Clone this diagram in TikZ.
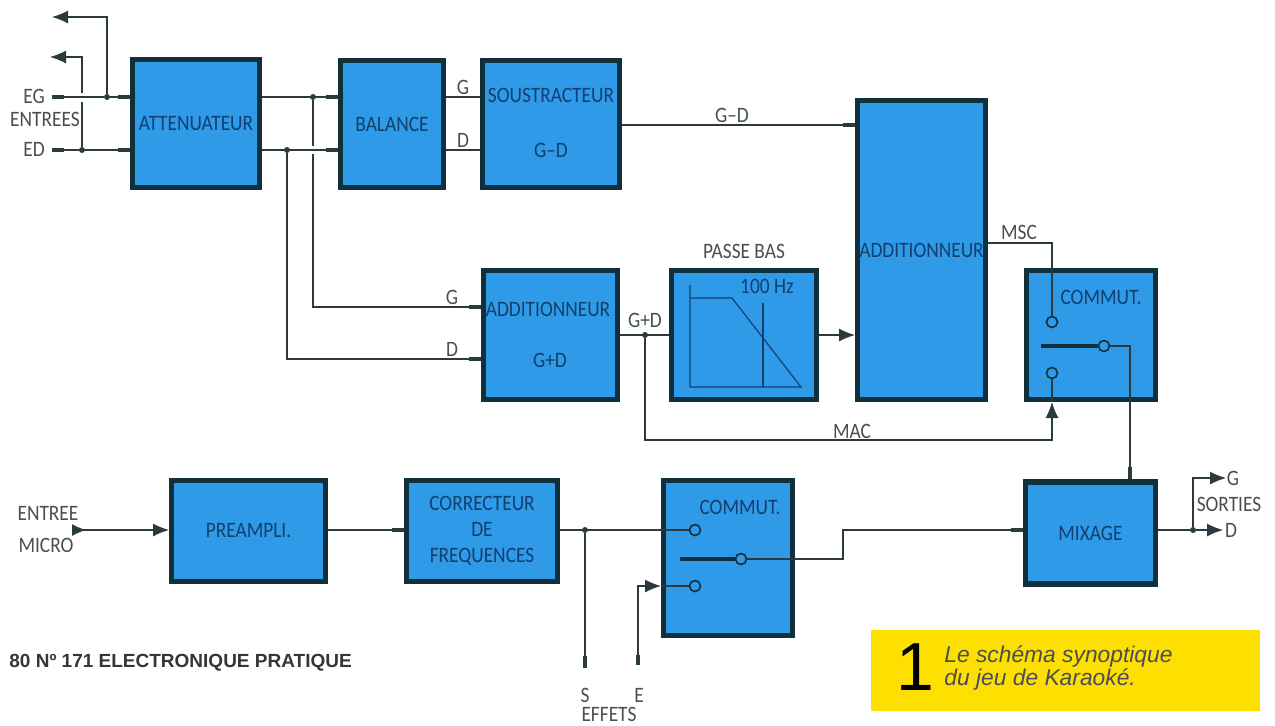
\documentclass[tikz,border=0pt]{standalone}
\usepackage{fontspec}
\setmainfont[FakeStretch=0.88]{Carlito}
\newfontfamily\capfont{Liberation Sans}
\usepackage{tikz}
\usetikzlibrary{arrows.meta,calc}
\definecolor{blockblue}{HTML}{2F9AE8}
\definecolor{blockline}{HTML}{10303C}
\definecolor{wireink}{HTML}{2A3A3E}
\definecolor{inktext}{HTML}{12406E}
\definecolor{greytext}{HTML}{4A4E50}
\definecolor{capyellow}{HTML}{FDDF00}
\tikzset{
  block/.style={draw=blockline, fill=blockblue, line width=2.6pt, text=inktext, font=\fontsize{11}{13}\selectfont, inner sep=0pt, align=center},
  intext/.style={text=inktext, font=\fontsize{11}{13}\selectfont, inner sep=0pt, align=center},
  outtext/.style={text=greytext, font=\fontsize{11}{13}\selectfont, inner sep=0pt, align=center},
  wire/.style={line width=0.6pt, draw=wireink},
  stub/.style={wire, -{Rectangle[length=6pt,width=2.2pt]}},
  feed/.style={wire, -{Latex[length=8pt,width=6.5pt]}},
  dotnode/.style={circle, fill=wireink, inner sep=0pt, minimum size=3pt},
  contact/.style={circle, draw=blockline, fill=blockblue, line width=0.8pt, inner sep=0pt, minimum size=5.5pt},
  switchbar/.style={line width=2pt, draw=blockline},
}
\begin{document}
\begin{tikzpicture}[x=0.5pt, y=-0.5pt]
  \useasboundingbox (0,0) rectangle (1275,725);

  % blocks
  \node[block, minimum width=63.4pt, minimum height=63.9pt] (att) at (196,123.5) {ATTENUATEUR};
  \node[block, minimum width=51.4pt, minimum height=63.4pt] (bal) at (392,124) {BALANCE};
  \node[block, minimum width=68.4pt, minimum height=63.4pt] (sous) at (551,124) {};
  \node[block, minimum width=63.9pt, minimum height=149.4pt] (addm) at (921.5,250) {ADDITIONNEUR};
  \node[block, minimum width=66.9pt, minimum height=64.4pt] (adds) at (550.5,335) {};
  \node[block, minimum width=72.4pt, minimum height=64.4pt] (pb) at (744,335) {};
  \node[block, minimum width=64.4pt, minimum height=64.4pt] (comh) at (1091,335) {};
  \node[block, minimum width=76.9pt, minimum height=50.4pt] (pre) at (248.5,531) {PREAMPLI.};
  \node[block, minimum width=75.4pt, minimum height=50.4pt] (cor) at (482,531) {CORRECTEUR\\[0pt]DE\\[0pt]FREQUENCES};
  \node[block, minimum width=64.4pt, minimum height=77.4pt] (comb) at (728,558) {};
  \node[block, minimum width=64.9pt, minimum height=51pt] (mix) at (1090.5,533) {MIXAGE};

  % texts inside blocks
  \node[intext] (soustxt) at (551,95) {SOUSTRACTEUR};
  \node[intext] (sousgd) at (551,150) {G--D};
  \node[intext] (addstxt) at (548,309) {ADDITIONNEUR};
  \node[intext] (addsgd) at (550,360) {G+D};
  \node[intext] (hz) at (767,286) {100 Hz};
  \node[intext] (comhtxt) at (1101,297) {COMMUT.};
  \node[intext] (combtxt) at (740,507) {COMMUT.};

  % texts outside blocks
  \node[outtext] (eglab) at (34,96) {EG};
  \node[outtext] (entlab) at (45,119) {ENTREES};
  \node[outtext] (edlab) at (34,149) {ED};
  \node[outtext] (glab) at (463,87) {G};
  \node[outtext] (dlab) at (463,140) {D};
  \node[outtext] (gdlab) at (732,115) {G--D};
  \node[outtext] (gslab) at (452,297) {G};
  \node[outtext] (dslab) at (452,349) {D};
  \node[outtext] (gplab) at (645,320) {G+D};
  \node[outtext] (pblab) at (744,251) {PASSE BAS};
  \node[outtext] (msclab) at (1019,232) {MSC};
  \node[outtext] (maclab) at (852,431) {MAC};
  \node[outtext] (mic1lab) at (48,513) {ENTREE};
  \node[outtext] (mic2lab) at (46,545) {MICRO};
  \node[outtext] (slab) at (585,695) {S};
  \node[outtext] (elab) at (639,695) {E};
  \node[outtext] (fxlab) at (609,714) {EFFETS};
  \node[outtext] (gout) at (1233,478) {G};
  \node[outtext] (sortlab) at (1229,504) {SORTIES};
  \node[outtext] (dout) at (1231,530) {D};

  % free ends
  \coordinate (egin) at (52,97);
  \coordinate (edin) at (52,150);
  \coordinate (egup) at (52,17);
  \coordinate (edup) at (50,57);
  \coordinate (micin) at (72,530);
  \coordinate (sout) at (585,668);
  \coordinate (ein) at (638,665);
  \coordinate (gend) at (1226,478);
  \coordinate (dend) at (1223,530);
  \coordinate (mixdown) at (1130,346);

  % junctions
  \node[dotnode] (jeg) at (107,97) {};
  \node[dotnode] (jed) at (82,150) {};
  \node[dotnode] (jag) at (313,97) {};
  \node[dotnode] (jad) at (287,150) {};
  \node[dotnode] (jgp) at (645,335) {};
  \node[dotnode] (jfx) at (585,530) {};
  \node[dotnode] (jout) at (1193,530) {};

  % contacts
  \node[contact] (c1) at (1052,322) {};
  \node[contact] (c2) at (1052,373) {};
  \node[contact] (c3) at (1104,346) {};
  \node[contact] (c4) at (695,530) {};
  \node[contact] (c5) at (695,586) {};
  \node[contact] (c6) at (741,559) {};

  % entrees
  \draw[feed] (jeg) -- (jeg |- egup) -- (egup);
  \draw[wire] (jed) -- ($(jed |- jeg)+(0,5)$);
  \draw[feed] ($(jed |- jeg)+(0,-4)$) -- (jed |- edup) -- (edup);
  \draw[stub] (jeg) -- (att.west |- jeg);
  \draw[stub] (jed) -- (att.west |- jed);
  \draw[wire, {Rectangle[length=6pt,width=2.2pt]}-] (egin) -- (jeg);
  \draw[wire, {Rectangle[length=6pt,width=2.2pt]}-] (edin) -- (jed);

  % attenuateur vers balance et additionneur
  \draw[stub] (att.east |- jag) -- (bal.west |- jag);
  \draw[stub] (att.east |- jad) -- (bal.west |- jad);
  \draw[wire] (jag) -- ($(jag |- jad)+(0,-4)$);
  \draw[stub] ($(jag |- jad)+(0,4)$) -- (jag |- 0,307) -- (adds.west |- 0,307);
  \draw[stub] (jad) -- (jad |- 0,359) -- (adds.west |- 0,359);
  \draw[wire] (bal.east |- jag) -- (sous.west |- jag);
  \draw[wire] (bal.east |- jad) -- (sous.west |- jad);
  \draw[stub] (sous.east |- 0,125) -- (addm.west |- 0,125);

  % voie G+D
  \draw[wire] (adds.east |- jgp) -- (pb.west |- jgp);
  \draw[feed] (pb.east |- jgp) -- (addm.west |- jgp);
  \draw[feed] (jgp) -- (jgp |- 0,440) -- (c2 |- 0,440) -- (c2 |- comh.south);
  \draw[wire] (c2 |- comh.south) -- (c2);

  % MSC et commutateur
  \draw[wire] (addm.east |- 0,243) -- (c1 |- 0,243) -- (c1);
  \draw[switchbar] (1041,346) -- (c3);
  \draw[stub] (c3) -- (mixdown) -- (mixdown |- mix.north);

  % filtre
  \draw[wire, draw=inktext] (690,285) -- (690,387) -- (801,387) -- (732,298) -- (690,298);
  \draw[wire, draw=inktext] (763,303) -- (763,387);

  % voie micro
  \draw[wire, {Latex[length=7pt,width=6pt,reversed]}-{Latex[length=8pt,width=6.5pt]}] (micin) -- (pre.west |- micin);
  \draw[stub] (pre.east |- micin) -- (cor.west |- micin);
  \draw[wire] (cor.east |- jfx) -- (comb.west |- jfx);
  \draw[wire, line width=1.4pt] (comb.west |- jfx) -- (c4);
  \draw[stub] (jfx) -- (sout);
  \draw[feed, {Rectangle[length=5pt,width=2pt]}-{Latex[length=8pt,width=6.5pt]}] (ein) -- (ein |- c5) -- (comb.west |- c5);
  \draw[wire, line width=1.1pt] (comb.west |- c5) -- (c5);
  \draw[switchbar] (680,559) -- (c6);
  \draw[stub] (c6) -- (843,559) -- (843,530) -- (mix.west |- 0,530);

  % sorties
  \draw[wire] (mix.east |- jout) -- (jout);
  \draw[feed] (jout) -- (dend);
  \draw[feed] (jout) -- (jout |- gend) -- (gend);

  % legende
  \node[fill=capyellow, minimum width=194.5pt, minimum height=40.5pt, inner sep=0pt] (capbox) at (1065.5,670.5) {};
  \node[text=black, font=\capfont\fontsize{34}{34}\selectfont, inner sep=0pt] (capnum) at (915,667) {1};
  \node[text=greytext, font=\capfont\itshape\fontsize{11.4}{10}\selectfont, align=left, inner sep=0pt, anchor=west] (captxt) at (944,668) {Le schéma synoptique\\du jeu de Karaoké.};
  \node[text=greytext!70!black, font=\capfont\bfseries\fontsize{9.5}{11}\selectfont, inner sep=0pt, anchor=west] (pagelab) at (9,663) {80 Nº 171 ELECTRONIQUE PRATIQUE};
\end{tikzpicture}
\end{document}
